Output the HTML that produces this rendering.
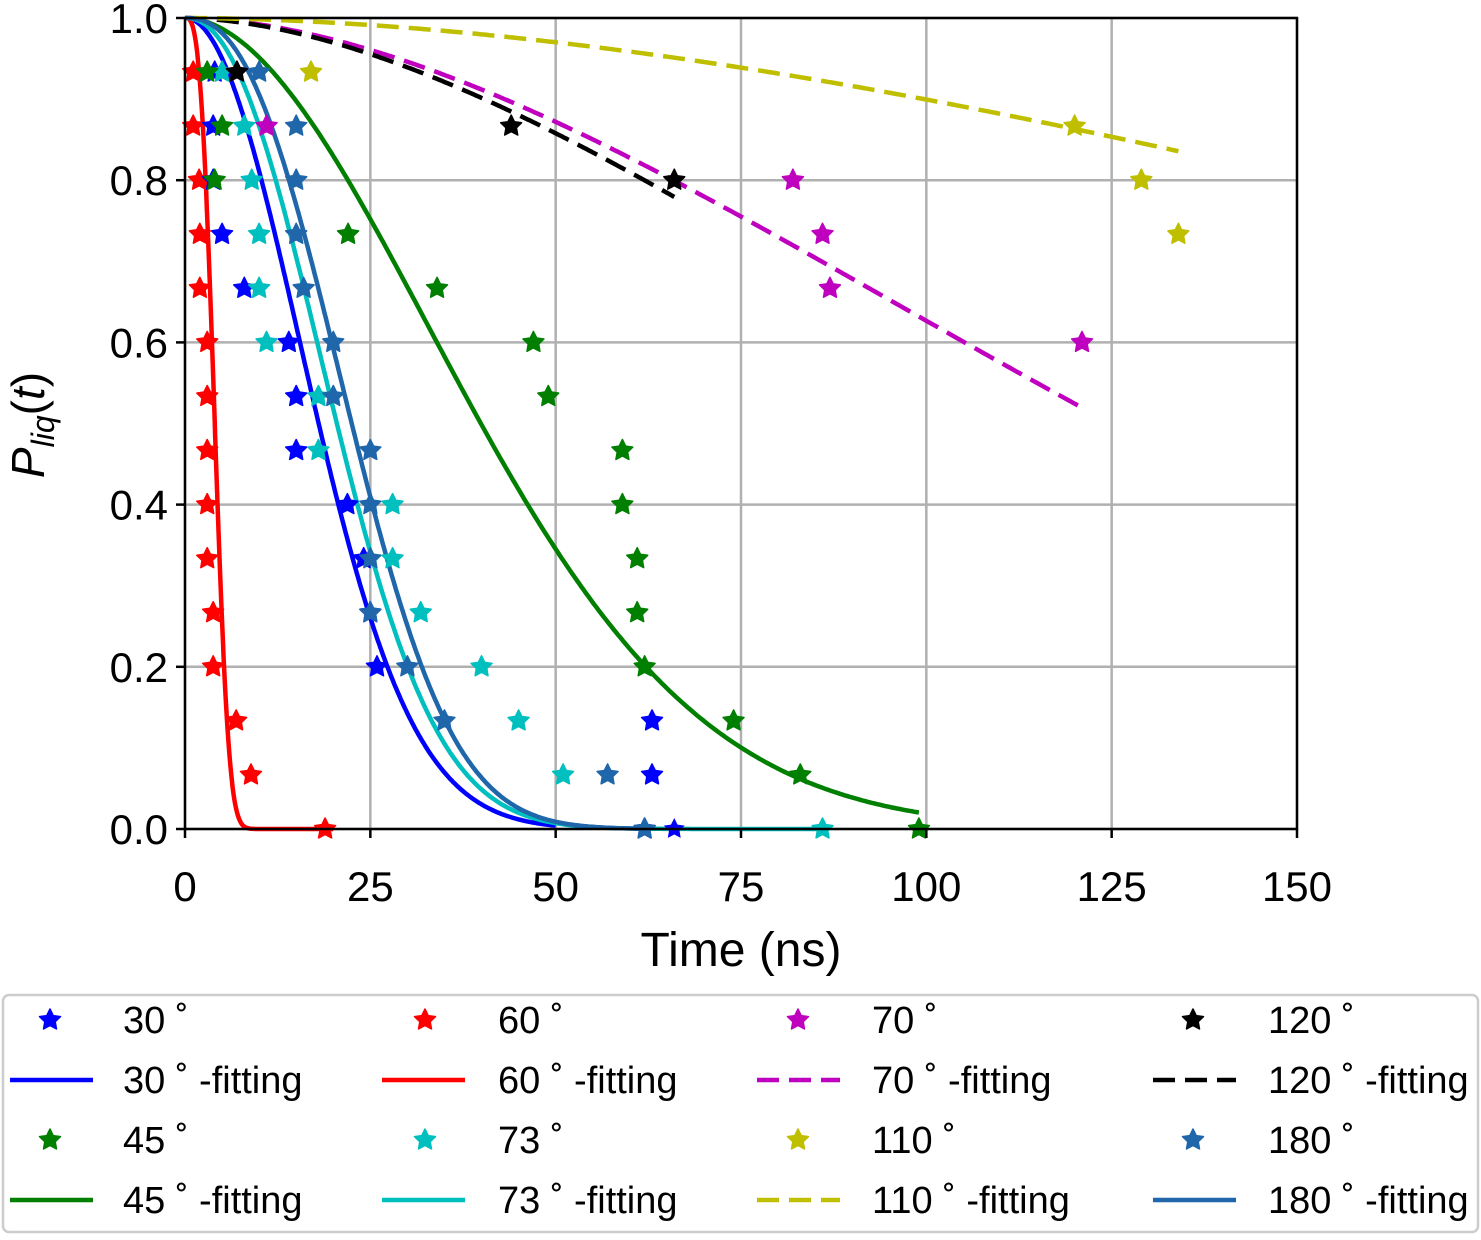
<!DOCTYPE html>
<html><head><meta charset="utf-8"><style>
body{margin:0;background:#fff;}
svg text{font-family:"Liberation Sans","DejaVu Sans",sans-serif;fill:#000;}
</style></head><body>
<svg id="chart" width="1481" height="1235" xmlns="http://www.w3.org/2000/svg">
<g id="grid"></g>
<g id="curves"></g>
<g id="points"></g>
<g id="axes"></g>
<text x="741" y="966" font-size="48" text-anchor="middle">Time (ns)</text>
<text transform="translate(44,425) rotate(-90)" font-size="46" text-anchor="middle"><tspan font-style="italic">P</tspan><tspan font-style="italic" font-size="32" dy="10">liq</tspan><tspan dy="-10">(</tspan><tspan font-style="italic">t</tspan><tspan>)</tspan></text>
<g id="legend"></g>
</svg>
<script>
const xTicks=[0,25,50,75,100,125,150];
const yTicks=[0.0,0.2,0.4,0.6,0.8,1.0];
const seriesNames=["30°","60°","70°","120°","45°","73°","110°","180°"];
const seriesColors=["#0000ff","#ff0000","#bf00bf","#000000","#007f00","#00bfbf","#bfbf00","#1f66aa"];
const seriesDashed=[false,false,true,true,false,false,true,false];
const levels=[0.9333,0.8667,0.8,0.7333,0.6667,0.6,0.5333,0.4667,0.4,0.3333,0.2667,0.2,0.1333,0.0667,0];
const t30=[4,3.8,3.8,5,8,14,15,15,21.9,24.1,25,25.9,63,63,62];
const t60=[1.1,1.1,1.9,2,2,3,3,3,3,3,3.8,3.8,6.9,8.9,18.9];
const t70=[7,11,82,86,87,121];
const t120=[7,44,66];
const t45=[3,5,4,22,34,47,49,59,59,61,61,62,74,83,99];
const t73=[5,8,9,10,10,11,18,18,28,28,31.8,40,45,51,86];
const t110=[17,120,129,134];
const t180=[10,15,15,15,16,20,20,25,25,25,25,30,35,57,62];
const extraZero30=[66];
const fitTau=[21.6,4.52,153.7,146,48.4,24.2,348,26.2];
const fitK=[2.03,3.09,1.77,1.75,1.9,2.2,1.8,2.4];
const fitEnd=[50,20,121,66,99,86,134,62];
const seriesTimes=[t30,t60,t70,t120,t45,t73,t110,t180];

const NS="http://www.w3.org/2000/svg";
const X0=185,X1=1297,Y0=829,Y1=18;
const sx=t=>X0+(t-0)/(150-0)*(X1-X0);
const sy=p=>Y0-p*(Y0-Y1);
function mk(tag,attrs,parent){const e=document.createElementNS(NS,tag);for(const k in attrs)e.setAttribute(k,attrs[k]);parent.appendChild(e);return e;}
const grid=document.getElementById('grid'),axes=document.getElementById('axes');
xTicks.forEach(t=>{
 const l=mk('line',{x1:sx(t),x2:sx(t),y1:Y1,y2:Y0,stroke:'#b0b0b0','stroke-width':2.5},grid);
 
 
 const tk=mk('line',{x1:sx(t),x2:sx(t),y1:Y0,y2:Y0+9,stroke:'#000','stroke-width':2.5},axes);
 
 
 const tx=mk('text',{x:sx(t),y:901,'font-size':42,'text-anchor':'middle'},axes);tx.textContent=t;
 
 
});
yTicks.forEach(p=>{
 const l=mk('line',{x1:X0,x2:X1,y1:sy(p),y2:sy(p),stroke:'#b0b0b0','stroke-width':2.5},grid);
 
 
 const tk=mk('line',{x1:X0-9,x2:X0,y1:sy(p),y2:sy(p),stroke:'#000','stroke-width':2.5},axes);
 
 
 const tx=mk('text',{x:X0-17,y:sy(p)+15,'font-size':42,'text-anchor':'end'},axes);tx.textContent=p.toFixed(1);
 
 
});
const fr=mk('rect',{x:X0,y:Y1,width:X1-X0,height:Y0-Y1,fill:'none',stroke:'#000','stroke-width':2.5},axes);


function star(cx,cy,r){let s=[];for(let i=0;i<10;i++){const a=-Math.PI/2+i*Math.PI/5;const rr=i%2?r*0.5:r;s.push((cx+rr*Math.cos(a)).toFixed(1)+','+(cy+rr*Math.sin(a)).toFixed(1));}return s.join(' ');}
const curves=document.getElementById('curves'),pts=document.getElementById('points');
seriesNames.forEach((n,i)=>{
 let d='';
 for(let j=0;j<=300;j++){const t=fitEnd[i]*j/300;const p=Math.exp(-Math.pow(t/fitTau[i],fitK[i]));d+=(j?'L':'M')+sx(t).toFixed(1)+' '+sy(p).toFixed(1);}
 const c=mk('path',{d:d,fill:'none',stroke:seriesColors[i],'stroke-width':4.5,'stroke-dasharray':seriesDashed[i]?'22,10':'none'},curves);
 
 
});
const order=[1,0,5,7,4,2,3,6];
order.forEach(i=>{
 const ts=seriesTimes[i];
 ts.forEach((t,j)=>{
  const s=mk('polygon',{points:star(sx(t),sy(levels[j]),11),fill:seriesColors[i],stroke:seriesColors[i],'stroke-width':1.5,'stroke-linejoin':'round'},pts);
  
  
 });
 if(i===0)extraZero30.forEach(t=>{const s=mk('polygon',{points:star(sx(t),sy(0),11),fill:seriesColors[0]},pts);
  
  });
});
const lg=document.getElementById('legend');
const box=mk('rect',{x:3,y:995,width:1475,height:237,rx:6,fill:'#fff',stroke:'#cccccc','stroke-width':2.5},lg);


const colMark=[50,425,798,1193],colLine=[10,382,757,1153],colText=[123,498,872,1268];
const rowsY=[1020,1080,1140,1200];
seriesNames.forEach((n,i)=>{
 const col=i%4,blk=Math.floor(i/4);
 const ym=rowsY[blk*2],yl=rowsY[blk*2+1];
 const s=mk('polygon',{points:star(colMark[col],ym,11),fill:seriesColors[i],stroke:seriesColors[i],'stroke-width':1.5,'stroke-linejoin':'round'},lg);
 
 
 const t1=mk('text',{x:colText[col],y:ym+13,'font-size':38},lg);t1.textContent=n.replace('°',' ˚');
 
 
 const l=mk('line',{x1:colLine[col],x2:colLine[col]+83,y1:yl,y2:yl,stroke:seriesColors[i],'stroke-width':4.5,'stroke-dasharray':seriesDashed[i]?'22,10':'none'},lg);
 
 
 const t2=mk('text',{x:colText[col],y:yl+13,'font-size':38},lg);t2.textContent=n.replace('°',' ˚')+' -fitting';
 
 
});
</script>
</body></html>
